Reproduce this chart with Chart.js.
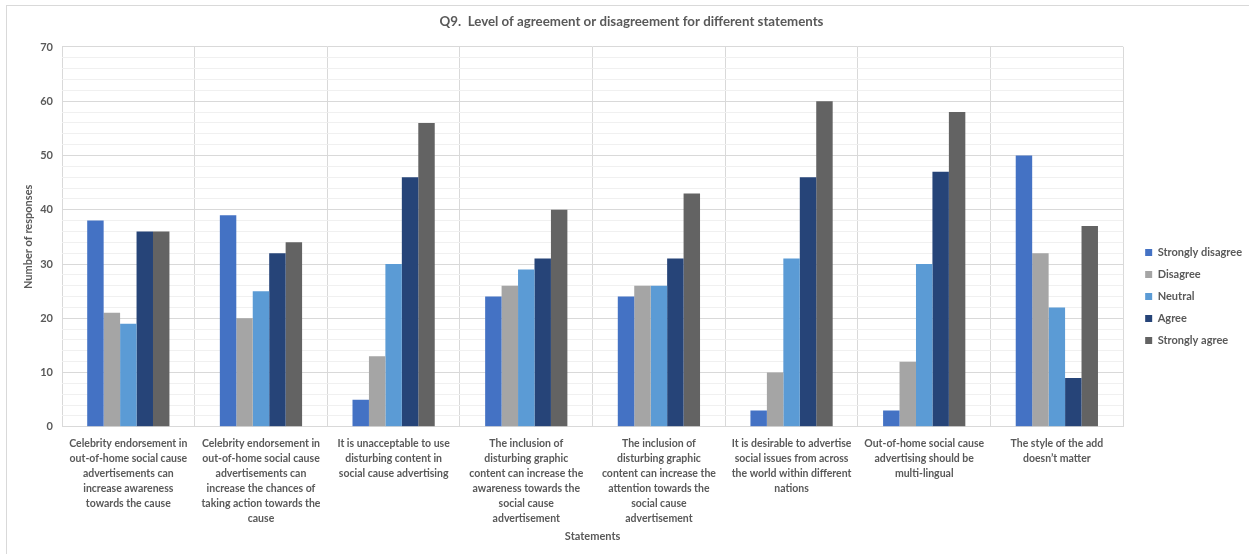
<!DOCTYPE html>
<html>
<head>
<meta charset="utf-8">
<script src="https://cdn.jsdelivr.net/npm/chart.js@4.4.1/dist/chart.umd.min.js"></script>
<style>
  html, body { margin: 0; padding: 0; background: #fff; }
  #frame {
    position: absolute; left: 6px; top: 5px; width: 1250px; height: 560px;
    border: 1px solid #d9d9d9; box-sizing: border-box;
  }
  #wrap { position: absolute; left: 0; top: 0; width: 1249px; height: 554px; }
</style>
</head>
<body>
<div id="frame"></div>
<div id="wrap"><canvas id="chart"></canvas></div>
<script>
// Survey statements (category labels, one array of lines each)
const statements = [
  ["Celebrity endorsement in", "out-of-home social cause", "advertisements can", "increase awareness", "towards the cause"],
  ["Celebrity endorsement in", "out-of-home social cause", "advertisements can", "increase the chances of", "taking action towards the", "cause"],
  ["It is unacceptable to use", "disturbing content in", "social cause advertising"],
  ["The inclusion of", "disturbing graphic", "content can increase the", "awareness towards the", "social cause", "advertisement"],
  ["The inclusion of", "disturbing graphic", "content can increase the", "attention towards the", "social cause", "advertisement"],
  ["It is desirable to advertise", "social issues from across", "the world within different", "nations"],
  ["Out-of-home social cause", "advertising should be", "multi-lingual"],
  ["The style of the add", "doesn\u2019t matter"]
];

// Responses per answer option
const stronglyDisagree = [38, 39, 5, 24, 24, 3, 3, 50];
const disagree         = [21, 20, 13, 26, 26, 10, 12, 32];
const neutral          = [19, 25, 30, 29, 26, 31, 30, 22];
const agree            = [36, 32, 46, 31, 31, 46, 47, 9];
const stronglyAgree    = [36, 34, 56, 40, 43, 60, 58, 37];

const yTickLabels = [0, 10, 20, 30, 40, 50, 60, 70];

const FONT = "Lato, 'Open Sans', sans-serif";
const TEXT = "#595959";

const series = [
  ["Strongly disagree", stronglyDisagree, "#4472C4"],
  ["Disagree", disagree, "#A5A5A5"],
  ["Neutral", neutral, "#5B9BD5"],
  ["Agree", agree, "#264478"],
  ["Strongly agree", stronglyAgree, "#636363"]
];

// Fine placement of the legend block
const boxNudge = {
  id: "boxNudge",
  afterLayout(chart) {
    const lg = chart.legend;
    if (lg) { lg.top += 22; lg.bottom += 22; lg.left += 11; lg.right += 11; }
  }
};

new Chart(document.getElementById("chart"), {
  type: "bar",
  data: {
    labels: statements,
    datasets: series.map(([label, data, color]) => ({
      label, data,
      backgroundColor: color,
      borderWidth: 0,
      categoryPercentage: 0.62,
      barPercentage: 1.0
    }))
  },
  plugins: [boxNudge],
  options: {
    responsive: true,
    maintainAspectRatio: false,
    animation: false,
    layout: { padding: { left: 22, right: 8, top: 4, bottom: 9 } },
    plugins: {
      tooltip: { enabled: false },
      title: {
        display: true,
        text: "Q9.  Level of agreement or disagreement for different statements",
        color: TEXT,
        font: { family: FONT, size: 13.3, weight: "bold" },
        padding: { top: 10, bottom: 17 }
      },
      legend: {
        position: "right",
        align: "center",
        labels: {
          color: TEXT,
          font: { family: FONT, size: 11, weight: "bold" },
          boxWidth: 7, boxHeight: 7,
          padding: 11
        }
      }
    },
    scales: {
      x: {
        afterFit(scale) { scale.height -= 5; },
        grid: { color: "#d9d9d9", offset: true, drawTicks: false },
        border: { color: "#d9d9d9" },
        ticks: {
          color: TEXT, autoSkip: false, maxRotation: 0, padding: 9,
          font: { family: FONT, size: 10.5, weight: "bold", lineHeight: "15px" }
        },
        title: {
          display: true, text: "Statements", color: TEXT,
          font: { family: FONT, size: 11, weight: "bold" }, padding: { top: 0, bottom: 2 }
        }
      },
      y: {
        min: 0, max: 70,
        afterFit(scale) { scale.width = 40; },
        grid: {
          drawTicks: false,
          color: (ctx) => (ctx.tick && ctx.tick.value % 10 === 0) ? "#d9d9d9" : "#f0f0f0"
        },
        border: { display: false },
        ticks: {
          stepSize: 2, padding: 9, color: TEXT, autoSkip: false,
          font: { family: FONT, size: 11, weight: "bold" },
          callback: (v) => yTickLabels.includes(v) ? v : ""
        },
        title: {
          display: true, text: "Number of responses", color: TEXT,
          font: { family: FONT, size: 11, weight: "bold" }, padding: 0
        }
      }
    }
  }
});
</script>
</body>
</html>
